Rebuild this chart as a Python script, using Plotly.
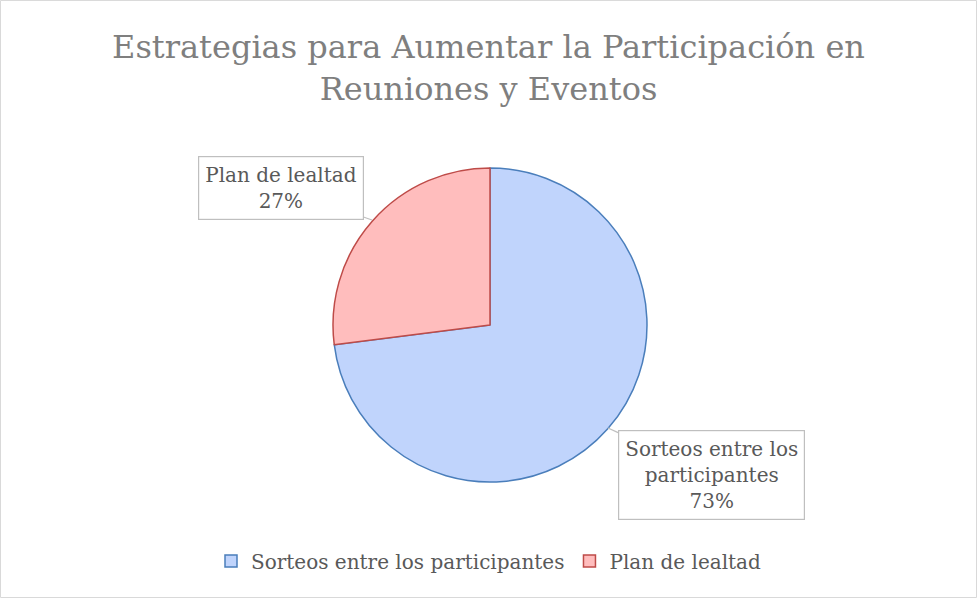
import plotly.graph_objects as go

labels = ["Sorteos entre los participantes", "Plan de lealtad"]
values = [73, 27]
fill_colors = ["#c0d4fc", "#ffbdbd"]
line_colors = ["#4a7ebb", "#be4b48"]
title_text = "Estrategias para Aumentar la Participación en<br>Reuniones y Eventos"
label_texts = ["Sorteos entre los<br>participantes<br>73%", "Plan de lealtad<br>27%"]

W, H = 977, 598
FONT = "DejaVu Serif"
cx, cy, r = 490, 325, 157

fig = go.Figure(go.Pie(
    labels=labels, values=values, sort=False, direction="clockwise", rotation=0,
    marker=dict(colors=fill_colors, line=dict(color=line_colors, width=1.5)),
    textinfo="none", hoverinfo="label+percent",
    domain=dict(x=[(cx - r) / W, (cx + r) / W], y=[1 - (cy + r) / H, 1 - (cy - r) / H]),
))

callouts = [
    dict(tip=(608, 428), box=(711, 475)),
    dict(tip=(372, 220), box=(281, 188)),
]
for txt, c in zip(label_texts, callouts):
    tx, ty = c["tip"]
    bx, by = c["box"]
    fig.add_annotation(
        x=tx / W, y=1 - ty / H, xref="paper", yref="paper",
        ax=bx - tx, ay=by - ty, axref="pixel", ayref="pixel",
        text=txt, showarrow=True, arrowhead=0, arrowwidth=1.2, arrowcolor="#bfbfbf",
        font=dict(family=FONT, size=20, color="#595959"),
        bordercolor="#bfbfbf", borderwidth=1.2, borderpad=6, bgcolor="white",
        align="center",
    )

fig.add_shape(type="rect", xref="paper", yref="paper", x0=0.0005, y0=0.0008, x1=0.9995, y1=0.9992,
              line=dict(color="#d9d9d9", width=1))

fig.update_layout(
    width=W, height=H,
    margin=dict(l=0, r=0, t=0, b=0),
    paper_bgcolor="white", plot_bgcolor="white",
    title=dict(text=title_text, x=0.5, xanchor="center", y=1 - 58 / H, yanchor="middle",
               font=dict(family=FONT, size=32, color="#7f7f7f")),
    legend=dict(orientation="h", x=0.5, xanchor="center", y=1 - 561 / H, yanchor="middle",
                font=dict(family=FONT, size=20, color="#595959"), itemwidth=30,
                traceorder="normal"),
    showlegend=True,
)

fig.write_html("out.html", config={"displayModeBar": False},
               post_script="document.body.style.margin='0px';")
